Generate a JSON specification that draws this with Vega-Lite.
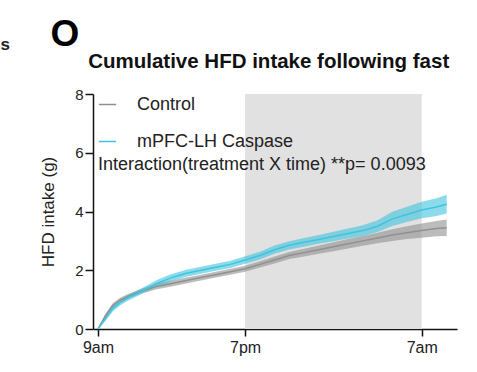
{
  "$schema": "https://vega.github.io/schema/vega-lite/v6.json",
  "width": 364,
  "height": 235,
  "autosize": {"type": "none"},
  "padding": {"left": 93, "top": 94, "right": 20, "bottom": 43},
  "background": "white",
  "config": {
    "view": {"stroke": null},
    "font": "Liberation Sans",
    "axis": {
      "domainColor": "#111", "domainWidth": 1.5, "tickColor": "#111", "tickWidth": 1.5,
      "tickSize": 7, "grid": false, "labelFont": "Liberation Sans", "labelColor": "#222",
      "titleFont": "Liberation Sans", "titleColor": "#222", "titleFontWeight": "normal"
    }
  },
  "datasets": {
    "night": [{"x": 10, "x2": 22}],
    "series": [
      {"t": 0, "g": "Control", "m": 0, "lo": 0, "hi": 0},
      {"t": 0.5, "g": "Control", "m": 0.45, "lo": 0.39, "hi": 0.51},
      {"t": 1, "g": "Control", "m": 0.8, "lo": 0.72, "hi": 0.88},
      {"t": 1.5, "g": "Control", "m": 0.98, "lo": 0.9, "hi": 1.06},
      {"t": 2, "g": "Control", "m": 1.1, "lo": 1.02, "hi": 1.18},
      {"t": 3, "g": "Control", "m": 1.3, "lo": 1.22, "hi": 1.38},
      {"t": 4, "g": "Control", "m": 1.45, "lo": 1.35, "hi": 1.55},
      {"t": 5, "g": "Control", "m": 1.55, "lo": 1.45, "hi": 1.65},
      {"t": 6, "g": "Control", "m": 1.65, "lo": 1.55, "hi": 1.75},
      {"t": 7, "g": "Control", "m": 1.75, "lo": 1.65, "hi": 1.85},
      {"t": 8, "g": "Control", "m": 1.85, "lo": 1.75, "hi": 1.95},
      {"t": 9, "g": "Control", "m": 1.95, "lo": 1.85, "hi": 2.05},
      {"t": 10, "g": "Control", "m": 2.05, "lo": 1.95, "hi": 2.15},
      {"t": 11, "g": "Control", "m": 2.2, "lo": 2.09, "hi": 2.31},
      {"t": 12, "g": "Control", "m": 2.35, "lo": 2.23, "hi": 2.47},
      {"t": 13, "g": "Control", "m": 2.5, "lo": 2.38, "hi": 2.62},
      {"t": 14, "g": "Control", "m": 2.6, "lo": 2.47, "hi": 2.73},
      {"t": 15, "g": "Control", "m": 2.7, "lo": 2.56, "hi": 2.84},
      {"t": 16, "g": "Control", "m": 2.8, "lo": 2.65, "hi": 2.95},
      {"t": 17, "g": "Control", "m": 2.9, "lo": 2.74, "hi": 3.06},
      {"t": 18, "g": "Control", "m": 3.0, "lo": 2.83, "hi": 3.17},
      {"t": 19, "g": "Control", "m": 3.1, "lo": 2.92, "hi": 3.28},
      {"t": 20, "g": "Control", "m": 3.2, "lo": 3.0, "hi": 3.4},
      {"t": 21, "g": "Control", "m": 3.28, "lo": 3.06, "hi": 3.5},
      {"t": 22, "g": "Control", "m": 3.35, "lo": 3.11, "hi": 3.59},
      {"t": 23, "g": "Control", "m": 3.42, "lo": 3.16, "hi": 3.68},
      {"t": 23.7, "g": "Control", "m": 3.45, "lo": 3.17, "hi": 3.73},
      {"t": 0, "g": "mPFC-LH Caspase", "m": 0, "lo": 0, "hi": 0},
      {"t": 0.5, "g": "mPFC-LH Caspase", "m": 0.35, "lo": 0.27, "hi": 0.43},
      {"t": 1, "g": "mPFC-LH Caspase", "m": 0.7, "lo": 0.6, "hi": 0.8},
      {"t": 1.5, "g": "mPFC-LH Caspase", "m": 0.9, "lo": 0.8, "hi": 1.0},
      {"t": 2, "g": "mPFC-LH Caspase", "m": 1.05, "lo": 0.95, "hi": 1.15},
      {"t": 3, "g": "mPFC-LH Caspase", "m": 1.3, "lo": 1.2, "hi": 1.4},
      {"t": 4, "g": "mPFC-LH Caspase", "m": 1.55, "lo": 1.43, "hi": 1.67},
      {"t": 5, "g": "mPFC-LH Caspase", "m": 1.75, "lo": 1.63, "hi": 1.87},
      {"t": 6, "g": "mPFC-LH Caspase", "m": 1.9, "lo": 1.78, "hi": 2.02},
      {"t": 7, "g": "mPFC-LH Caspase", "m": 2.0, "lo": 1.88, "hi": 2.12},
      {"t": 8, "g": "mPFC-LH Caspase", "m": 2.1, "lo": 1.98, "hi": 2.22},
      {"t": 9, "g": "mPFC-LH Caspase", "m": 2.2, "lo": 2.08, "hi": 2.32},
      {"t": 10, "g": "mPFC-LH Caspase", "m": 2.35, "lo": 2.22, "hi": 2.48},
      {"t": 11, "g": "mPFC-LH Caspase", "m": 2.5, "lo": 2.37, "hi": 2.63},
      {"t": 12, "g": "mPFC-LH Caspase", "m": 2.7, "lo": 2.56, "hi": 2.84},
      {"t": 13, "g": "mPFC-LH Caspase", "m": 2.85, "lo": 2.71, "hi": 2.99},
      {"t": 14, "g": "mPFC-LH Caspase", "m": 2.95, "lo": 2.8, "hi": 3.1},
      {"t": 15, "g": "mPFC-LH Caspase", "m": 3.05, "lo": 2.9, "hi": 3.2},
      {"t": 16, "g": "mPFC-LH Caspase", "m": 3.15, "lo": 2.99, "hi": 3.31},
      {"t": 17, "g": "mPFC-LH Caspase", "m": 3.25, "lo": 3.08, "hi": 3.42},
      {"t": 18, "g": "mPFC-LH Caspase", "m": 3.35, "lo": 3.17, "hi": 3.53},
      {"t": 19, "g": "mPFC-LH Caspase", "m": 3.5, "lo": 3.3, "hi": 3.7},
      {"t": 20, "g": "mPFC-LH Caspase", "m": 3.75, "lo": 3.51, "hi": 3.99},
      {"t": 21, "g": "mPFC-LH Caspase", "m": 3.9, "lo": 3.64, "hi": 4.16},
      {"t": 22, "g": "mPFC-LH Caspase", "m": 4.05, "lo": 3.77, "hi": 4.33},
      {"t": 23, "g": "mPFC-LH Caspase", "m": 4.15, "lo": 3.85, "hi": 4.45},
      {"t": 23.7, "g": "mPFC-LH Caspase", "m": 4.25, "lo": 3.93, "hi": 4.57}
    ],
    "texts": [
      {"t": 0, "v": 5.6, "label": "Interaction(treatment X time) **p= 0.0093", "kind": "stat"},
      {"t": 11.6, "v": 8.87, "label": "Cumulative HFD intake following fast", "kind": "title"},
      {"t": -2.25, "v": 9.65, "label": "O", "kind": "letter"},
      {"t": -6.3, "v": 9.5, "label": "s", "kind": "frag"}
    ]
  },
  "layer": [
    {
      "data": {"name": "night"},
      "mark": {"type": "rect", "color": "#e1e1e1"},
      "encoding": {
        "x": {"field": "x", "type": "quantitative", "scale": {"domain": [-0.34, 24.4], "nice": false, "zero": false},
              "axis": {"values": [0, 10, 22], "labelExpr": "datum.value == 0 ? '9am' : datum.value == 10 ? '7pm' : '7am'",
                       "labelFontSize": 16, "labelPadding": 3, "title": null}},
        "x2": {"field": "x2"},
        "y": {"datum": 0, "type": "quantitative", "scale": {"domain": [0, 8], "nice": false},
              "axis": {"values": [0, 2, 4, 6, 8], "labelFontSize": 15, "labelPadding": 2, "tickSize": 8,
                       "title": "HFD intake (g)", "titleFontSize": 17, "titlePadding": 17}},
        "y2": {"datum": 8}
      }
    },
    {
      "data": {"name": "series"},
      "mark": {"type": "area", "opacity": 0.6},
      "encoding": {
        "x": {"field": "t", "type": "quantitative"},
        "y": {"field": "lo", "type": "quantitative"},
        "y2": {"field": "hi"},
        "color": {"field": "g", "type": "nominal",
                  "scale": {"domain": ["Control", "mPFC-LH Caspase"], "range": ["#909090", "#3fc3de"]},
                  "legend": {"orient": "none", "legendX": 5, "legendY": 1, "title": null,
                             "symbolType": "stroke", "symbolSize": 300, "symbolStrokeWidth": 1.5, "symbolOpacity": 1,
                             "labelFontSize": 18, "labelColor": "#222", "labelOffset": 20, "rowPadding": 18,
                             "labelFont": "Liberation Sans"}}
      }
    },
    {
      "data": {"name": "series"},
      "mark": {"type": "line", "strokeWidth": 1.5},
      "encoding": {
        "x": {"field": "t", "type": "quantitative"},
        "y": {"field": "m", "type": "quantitative"},
        "color": {"field": "g", "type": "nominal"}
      }
    },
    {
      "data": {"name": "texts"},
      "transform": [{"filter": "datum.kind == 'stat'"}],
      "mark": {"type": "text", "align": "left", "baseline": "middle", "fontSize": 18, "color": "#222"},
      "encoding": {
        "x": {"field": "t", "type": "quantitative"},
        "y": {"field": "v", "type": "quantitative"},
        "text": {"field": "label"}
      }
    },
    {
      "data": {"name": "texts"},
      "transform": [{"filter": "datum.kind == 'title'"}],
      "mark": {"type": "text", "align": "center", "baseline": "alphabetic", "fontSize": 20.5, "fontWeight": "bold", "color": "#111"},
      "encoding": {
        "x": {"field": "t", "type": "quantitative"},
        "y": {"field": "v", "type": "quantitative"},
        "text": {"field": "label"}
      }
    },
    {
      "data": {"name": "texts"},
      "transform": [{"filter": "datum.kind == 'letter'"}],
      "mark": {"type": "text", "align": "center", "baseline": "alphabetic", "fontSize": 37, "fontWeight": "bold", "color": "#000"},
      "encoding": {
        "x": {"field": "t", "type": "quantitative"},
        "y": {"field": "v", "type": "quantitative"},
        "text": {"field": "label"}
      }
    },
    {
      "data": {"name": "texts"},
      "transform": [{"filter": "datum.kind == 'frag'"}],
      "mark": {"type": "text", "align": "center", "baseline": "alphabetic", "fontSize": 17, "fontWeight": "bold", "color": "#222"},
      "encoding": {
        "x": {"field": "t", "type": "quantitative"},
        "y": {"field": "v", "type": "quantitative"},
        "text": {"field": "label"}
      }
    }
  ]
}
